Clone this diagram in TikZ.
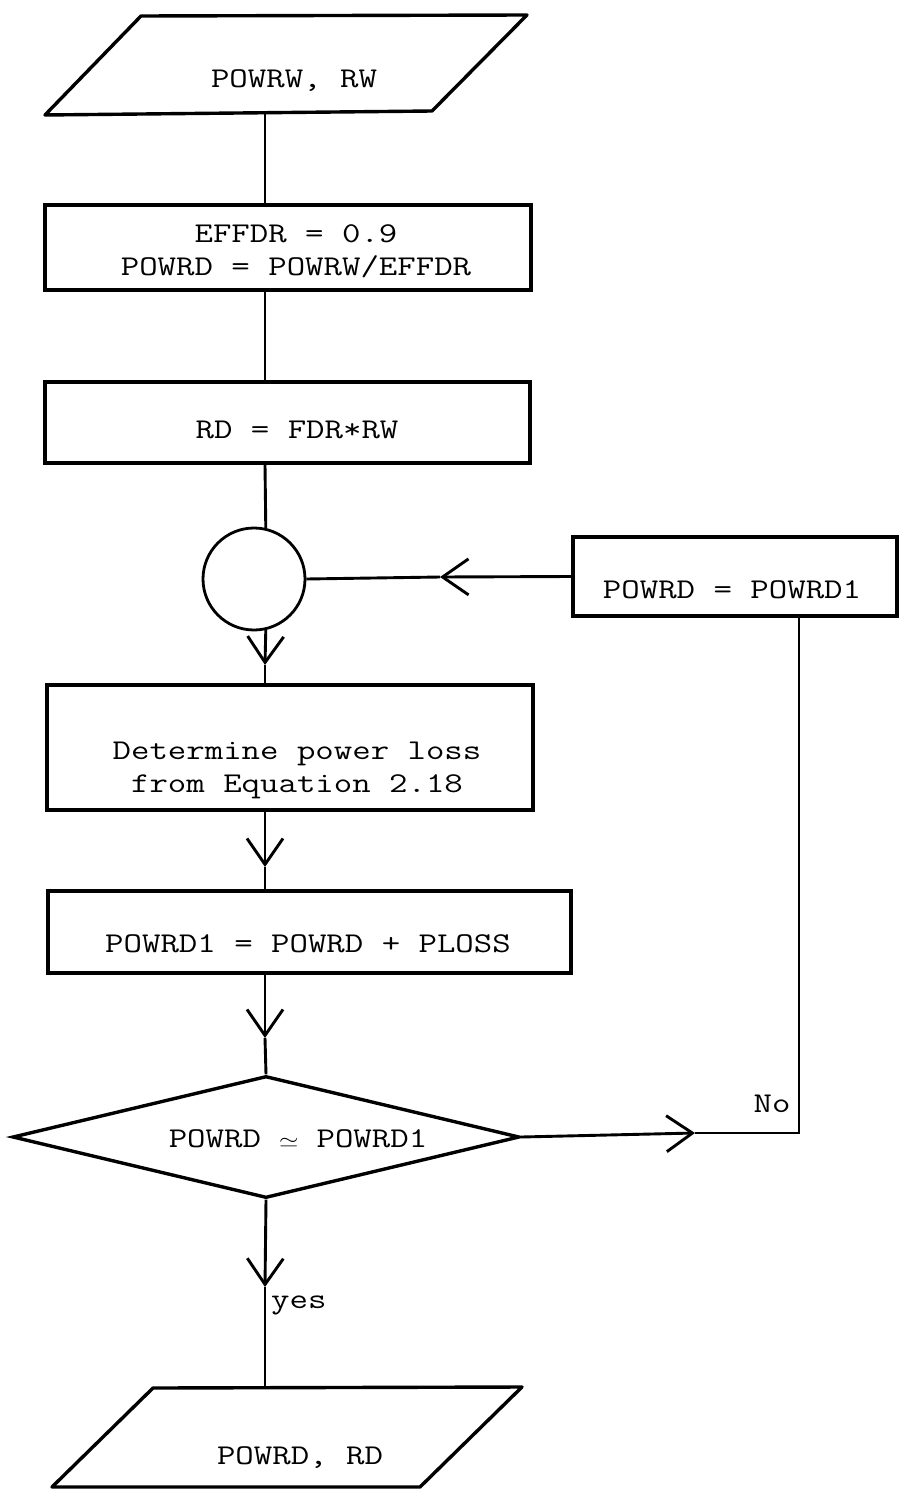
\documentclass[tikz,border=0pt]{standalone}
\usepackage{fontspec}
\usepackage{graphicx}
\usetikzlibrary{arrows.meta,shapes.geometric}
\newcommand{\flowtxt}[1]{\scalebox{1}[0.8]{\ttfamily\fontsize{35.8pt}{38pt}\selectfont #1}}
\begin{document}
\begin{tikzpicture}[x=1pt,y=-1pt,
  box/.style={draw, line width=3.4pt, rectangle, inner sep=0pt},
  outline/.style={draw, line width=3.4pt, line join=round},
  lbl/.style={inner sep=0pt, anchor=base},
  conn/.style={line width=2.9pt},
  tip/.style={-{Straight Barb[length=26pt,width=36pt]}}
]
\useasboundingbox (0,0) rectangle (899,1490);
\coordinate (spine) at (265,0);

% input parallelogram
\coordinate (i1a) at (141,16);
\coordinate (i1b) at (527,15);
\coordinate (i1c) at (432,111);
\coordinate (i1d) at (45,115);
\draw[outline] (i1a) -- (i1b) -- (i1c) -- (i1d) -- cycle;
\node[lbl] (in1) at (294,88) {\flowtxt{POWRW, RW}};
\coordinate (in1s) at (265,113);

% boxes
\node[box, minimum width=486pt, minimum height=85pt] (b1) at (288,247.5) {};
\node[lbl] (b1ta) at (296,242) {\flowtxt{EFFDR = 0.9}};
\node[lbl] (b1tb) at (296,275) {\flowtxt{POWRD = POWRW/EFFDR}};

\node[box, minimum width=485pt, minimum height=81pt] (b2) at (287.5,422.5) {};
\node[lbl] (b2t) at (297,438) {\flowtxt{RD = FDR*RW}};

\node[circle, draw, line width=2.8pt, minimum size=102pt, inner sep=0pt] (circ) at (254,579) {};

\node[box, minimum width=324pt, minimum height=79pt] (fb) at (735,576.5) {};
\node[lbl] (fbt) at (732,598) {\flowtxt{POWRD = POWRD1}};

\node[box, minimum width=486pt, minimum height=125pt] (det) at (290,747.5) {};
\node[lbl] (detta) at (297,759) {\flowtxt{Determine power loss}};
\node[lbl] (dettb) at (297,792) {\flowtxt{from Equation 2.18}};

\node[box, minimum width=523pt, minimum height=82pt] (p1) at (309.5,932) {};
\node[lbl] (p1t) at (308,952) {\flowtxt{POWRD1 = POWRD + PLOSS}};

\node[diamond, draw, line width=3.4pt, minimum width=507pt, minimum height=122pt, inner sep=0pt] (dec) at (266,1137) {};
\node[lbl] (dect) at (298,1147) {\flowtxt{POWRD \makebox[0.525em]{\fontsize{24pt}{24pt}\selectfont$\simeq$} POWRD1}};

% output parallelogram
\coordinate (o1a) at (153,1388);
\coordinate (o1b) at (522,1387);
\coordinate (o1c) at (420,1487);
\coordinate (o1d) at (52,1487);
\draw[outline] (o1a) -- (o1b) -- (o1c) -- (o1d) -- cycle;
\node[lbl] (out1) at (300,1464) {\flowtxt{POWRD, RD}};
\coordinate (out1n) at (265,1388);

% arrow tip points
\coordinate (t1) at (265,665);
\coordinate (t2) at (265,867);
\coordinate (t3) at (265,1038);
\coordinate (t4) at (265,1287);
\coordinate (t5) at (695,1133);
\coordinate (t6) at (440,577);
\coordinate (corner) at (799,1133);

% connectors
\draw[conn] (in1s) -- (b1.north -| spine);
\draw[conn] (b1.south -| spine) -- (b2.north -| spine);
\draw[conn] (b2.south -| spine) -- (circ.77);
\draw[conn,tip] (circ.-77) -- (t1);
\draw[conn] (t1) -- (det.north -| spine);
\draw[conn,tip] (det.south -| spine) -- (t2);
\draw[conn] (t2) -- (p1.north -| spine);
\draw[conn,tip] (p1.south -| spine) -- (t3);
\draw[conn] (t3) -- (dec.north);
\draw[conn,tip] (dec.south) -- (t4);
\draw[conn] (t4) -- (out1n);
\draw[conn,tip] (dec.east) -- (t5);
\draw[conn] (t5) -- (corner) -- (fb.south -| corner);
\draw[conn,tip] (fb.west) -- (t6);
\draw[conn] (t6) -- (circ.east);

\node[lbl] (no) at (772,1112) {\flowtxt{No}};
\node[lbl, anchor=base west] (yes) at (271,1308) {\flowtxt{yes}};
\end{tikzpicture}
\end{document}
